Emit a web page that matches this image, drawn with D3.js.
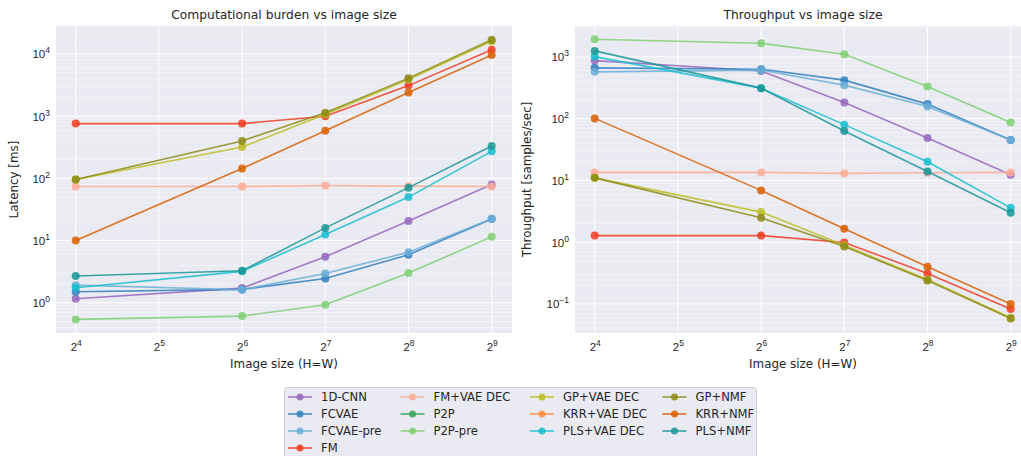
<!DOCTYPE html>
<html><head><meta charset="utf-8">
<script src="https://cdn.jsdelivr.net/npm/d3@7"></script>
<style>body{margin:0;background:#fff}svg{display:block;font-family:"DejaVu Sans",sans-serif}</style>
</head><body><svg id="c" width="1021" height="456"></svg>
<script>
const sizes = [16, 64, 128, 256, 512];
const xTicks = [16, 32, 64, 128, 256, 512];
const seriesNames = ["1D-CNN","FCVAE","FCVAE-pre","FM","FM+VAE DEC","P2P","P2P-pre","GP+VAE DEC","KRR+VAE DEC","PLS+VAE DEC","GP+NMF","KRR+NMF","PLS+NMF"];
const seriesColors = ["#9467bd","#2f7fbf","#6baed6","#f03b20","#fcab94","#31a354","#7fcf74","#bcbd22","#fd8d3c","#17becf","#8c8c16","#d95f02","#1a9696"];
// Latency [ms]
const latency = {
  "1D-CNN":[1.16,1.72,5.5,20.7,80],
  "FCVAE":[1.5,1.64,2.46,5.9,22.3],
  "FCVAE-pre":[1.92,1.62,2.96,6.5,22.5],
  "FM":[760,760,1000,3100,11700],
  "FM+VAE DEC":[74,74,77,75,74],
  "P2P":[],
  "P2P-pre":[0.54,0.61,0.93,3.0,11.5],
  "GP+VAE DEC":[96,320,1070,3900,16000],
  "KRR+VAE DEC":[],
  "PLS+VAE DEC":[1.74,3.2,12.5,50,272],
  "GP+NMF":[96,400,1140,4090,16900],
  "KRR+NMF":[10,144,585,2400,9600],
  "PLS+NMF":[2.7,3.27,16,71,331]
};
// Throughput [samples/sec]
const throughput = {
  "1D-CNN":[870,590,182,48.7,12.4],
  "FCVAE":[665,632,420,172,45],
  "FCVAE-pre":[572,610,349,157,45],
  "FM":[1.28,1.28,0.99,0.31,0.083],
  "FM+VAE DEC":[13.5,13.5,13.0,13.3,13.5],
  "P2P":[],
  "P2P-pre":[1930,1660,1100,331,87],
  "GP+VAE DEC":[11,3.07,0.89,0.25,0.06],
  "KRR+VAE DEC":[],
  "PLS+VAE DEC":[1010,312,80,20,3.6],
  "GP+NMF":[11,2.48,0.85,0.24,0.058],
  "KRR+NMF":[101,6.9,1.65,0.40,0.1],
  "PLS+NMF":[1250,312,63,13.9,2.99]
};
const yTicksLat = [1,10,100,1000,10000];
const yTicksThr = [0.1,1,10,100,1000];

const svg = d3.select("#c");
function drawPanel(o){
  const g = svg.append("g");
  const x = d3.scaleLog().base(2).domain([Math.pow(2,3.763),Math.pow(2,9.244)]).range([o.x0,o.x1]);
  const y = d3.scaleLog().domain(o.ydom).range([333,26]);
  g.append("rect").attr("x",o.x0).attr("y",26).attr("width",o.x1-o.x0).attr("height",307).attr("fill","#EAEAF2");
  const lo = Math.floor(Math.log10(o.ydom[0])), hi = Math.ceil(Math.log10(o.ydom[1]));
  const minor = [];
  for(let k=lo;k<=hi;k++) for(let m=2;m<=9;m++){const v=m*Math.pow(10,k); if(v>o.ydom[0]&&v<o.ydom[1]) minor.push(v);}
  g.selectAll(".mn").data(minor).join("line").attr("x1",o.x0).attr("x2",o.x1).attr("y1",d=>y(d)).attr("y2",d=>y(d)).attr("stroke","#fff").attr("stroke-width",0.5).attr("opacity",0.8);
  g.selectAll(".mj").data(o.yticks).join("line").attr("x1",o.x0).attr("x2",o.x1).attr("y1",d=>y(d)).attr("y2",d=>y(d)).attr("stroke","#fff").attr("stroke-width",1);
  g.selectAll(".vx").data(xTicks).join("line").attr("x1",d=>x(d)).attr("x2",d=>x(d)).attr("y1",26).attr("y2",333).attr("stroke","#fff").attr("stroke-width",1);
  const xa = g.append("g").attr("transform","translate(0,333)").call(d3.axisBottom(x).tickValues(xTicks).tickSize(0).tickFormat(()=>""));
  xa.select(".domain").remove();
  xa.selectAll(".tick").each(function(d){
    const t = d3.select(this).append("text").attr("y",18).attr("fill","#262626").attr("font-size",11.5).attr("text-anchor","middle");
    t.append("tspan").text("2");
    t.append("tspan").attr("dy",-5).attr("font-size",8.5).text(Math.round(Math.log2(d)));
  });
  const ya = g.append("g").attr("transform",`translate(${o.x0},0)`).call(d3.axisLeft(y).tickValues(o.yticks).tickSize(0).tickFormat(()=>""));
  ya.select(".domain").remove();
  ya.selectAll(".tick").each(function(d){
    const e = Math.round(Math.log10(d));
    const t = d3.select(this).append("text").attr("x",-6).attr("dy",4).attr("fill","#262626").attr("font-size",11.5).attr("text-anchor","end");
    t.append("tspan").text("10");
    t.append("tspan").attr("dy",-5).attr("font-size",8.5).text(String(e).replace("-","\u2212"));
  });
  svg.append("text").attr("x",(o.x0+Math.min(o.x1,1021))/2 + (o.titleDx||0)).attr("y",19).attr("text-anchor","middle").attr("font-size",12.3).attr("fill","#262626").text(o.title);
  svg.append("text").attr("x",(o.x0+o.x1)/2).attr("y",368).attr("text-anchor","middle").attr("font-size",11.9).attr("fill","#262626").text("Image size (H=W)");
  svg.append("text").attr("transform",`translate(${o.ylx},${179.5}) rotate(-90)`).attr("text-anchor","middle").attr("font-size",11.9).attr("fill","#262626").text(o.ylabel);
  const line = d3.line().x(d=>x(d[0])).y(d=>y(d[1]));
  seriesNames.forEach((n,i)=>{
    const pts = o.data[n].map((v,j)=>[sizes[j],v]);
    if(!pts.length) return;
    g.append("path").attr("d",line(pts)).attr("fill","none").attr("stroke",seriesColors[i]).attr("stroke-width",1.6).attr("opacity",0.85);
    g.selectAll(null).data(pts).join("circle").attr("cx",d=>x(d[0])).attr("cy",d=>y(d[1])).attr("r",4).attr("fill",seriesColors[i]).attr("opacity",0.85);
  });
}
drawPanel({x0:56,x1:512,ydom:[Math.pow(10,-0.486),Math.pow(10,4.45)],yticks:yTicksLat,data:latency,title:"Computational burden vs image size",ylabel:"Latency [ms]",ylx:18});
drawPanel({x0:575,x1:1031,ydom:[Math.pow(10,-1.47),Math.pow(10,3.5)],yticks:yTicksThr,data:throughput,title:"Throughput vs image size",ylabel:"Throughput [samples/sec]",ylx:531,titleDx:5});

const lg = svg.append("g");
lg.append("rect").attr("x",284.5).attr("y",387.5).attr("width",472).attr("height",80).attr("rx",3).attr("fill","#EAEAF2").attr("stroke","#cfcfcf");
const colX = [288, 400.5, 530, 662.5];
const rowY = [397, 414, 431, 448];
seriesNames.forEach((n,i)=>{
  const c = i<4?0:i<7?1:i<10?2:3;
  const r = i<4?i:i<7?i-4:i<10?i-7:i-10;
  const lx = colX[c], ly = rowY[r];
  lg.append("line").attr("x1",lx).attr("x2",lx+24).attr("y1",ly).attr("y2",ly).attr("stroke",seriesColors[i]).attr("stroke-width",1.6).attr("opacity",0.85);
  lg.append("circle").attr("cx",lx+12).attr("cy",ly).attr("r",3.5).attr("fill",seriesColors[i]).attr("opacity",0.85);
  lg.append("text").attr("x",lx+33).attr("y",ly+4).attr("font-size",11.6).attr("fill","#262626").text(n);
});
</script></body></html>
